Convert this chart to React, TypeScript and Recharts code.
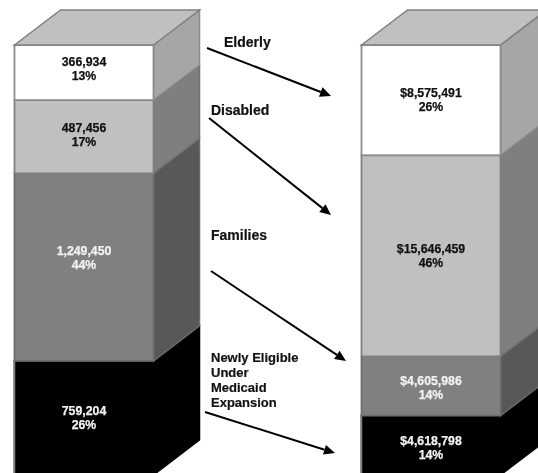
import React from "react";
import { BarChart, Bar, XAxis, YAxis } from "recharts";

const categories = ["Enrollment", "Spending"];
const elderly = [366934, 8575491];
const disabled = [487456, 15646459];
const families = [1249450, 4605986];
const newlyEligible = [759204, 4618798];
const valueLabels: Record<string, string[]> = {
  elderly: ["366,934", "$8,575,491"],
  disabled: ["487,456", "$15,646,459"],
  families: ["1,249,450", "$4,605,986"],
  newlyEligible: ["759,204", "$4,618,798"],
};
const percentLabels: Record<string, string[]> = {
  elderly: ["13%", "26%"],
  disabled: ["17%", "46%"],
  families: ["44%", "14%"],
  newlyEligible: ["26%", "14%"],
};

const data = categories.map((category, i) => ({
  category,
  elderly: elderly[i],
  disabled: disabled[i],
  families: families[i],
  newlyEligible: newlyEligible[i],
}));

const DEPTH_X = 46;
const DEPTH_Y = 35;
const EDGE = "#808080";
const FONT = "'Liberation Sans', Arial, sans-serif";

const sideFill: Record<string, string> = {
  elderly: "#a6a6a6",
  disabled: "#7f7f7f",
  families: "#585858",
  newlyEligible: "#000000",
};
const sideStroke: Record<string, string> = {
  elderly: "#8c8c8c",
  disabled: "#707070",
  families: "#6a6a6a",
  newlyEligible: "#000000",
};
const frontStroke: Record<string, string> = {
  elderly: "#8c8c8c",
  disabled: "#808080",
  families: "#6e6e6e",
  newlyEligible: "#000000",
};
const textFill: Record<string, string> = {
  elderly: "#111111",
  disabled: "#111111",
  families: "#f2f2f2",
  newlyEligible: "#f2f2f2",
};
const labelShift: Record<string, number[]> = {
  elderly: [-4, 0],
  disabled: [-2, 0],
  families: [-9, 2],
  newlyEligible: [0, 3],
};

function Block(props: any) {
  const { x, y, width, height, fill, index, seriesKey, isTop } = props;
  const cx = x + width / 2;
  const cy = y + height / 2 + labelShift[seriesKey][index];
  const labelProps = {
    textAnchor: "middle" as const,
    fontFamily: FONT,
    fontWeight: "bold",
    fontSize: 12.3,
    fill: textFill[seriesKey],
    stroke: textFill[seriesKey],
    strokeWidth: 0.25,
  };
  return (
    <g>
      <polygon
        points={`${x + width},${y} ${x + width + DEPTH_X},${y - DEPTH_Y} ${x + width + DEPTH_X},${y + height - DEPTH_Y} ${x + width},${y + height}`}
        fill={sideFill[seriesKey]}
        stroke={sideStroke[seriesKey]}
        strokeWidth={1.5}
      />
      <rect x={x} y={y} width={width} height={height} fill={fill} stroke={frontStroke[seriesKey]} strokeWidth={1.8} />
      {seriesKey === "newlyEligible" && (
        <line x1={x} y1={y} x2={x} y2={y + height} stroke={EDGE} strokeWidth={1.5} />
      )}
      {isTop && (
        <polygon
          points={`${x},${y} ${x + DEPTH_X},${y - DEPTH_Y} ${x + width + DEPTH_X},${y - DEPTH_Y} ${x + width},${y}`}
          fill="#c0c0c0"
          stroke={EDGE}
          strokeWidth={1.5}
        />
      )}
      <text x={cx} y={cy - 3} {...labelProps}>
        {valueLabels[seriesKey][index]}
      </text>
      <text x={cx} y={cy + 11} {...labelProps}>
        {percentLabels[seriesKey][index]}
      </text>
    </g>
  );
}

const arrows = [
  [207, 48, 331, 96],
  [209, 118, 331, 215],
  [211, 271, 346, 361],
  [205, 412, 335, 453],
];

function Arrow({ line }: { line: number[] }) {
  const [x1, y1, x2, y2] = line;
  const a = Math.atan2(y2 - y1, x2 - x1);
  const len = 11;
  const half = 5;
  const bx = x2 - len * Math.cos(a);
  const by = y2 - len * Math.sin(a);
  const nx = -Math.sin(a) * half;
  const ny = Math.cos(a) * half;
  return (
    <g>
      <line x1={x1} y1={y1} x2={bx} y2={by} stroke="#000" strokeWidth={2} />
      <polygon points={`${x2},${y2} ${bx + nx},${by + ny} ${bx - nx},${by - ny}`} fill="#000" />
    </g>
  );
}

const seriesLabels = [
  { text: "Elderly", x: 224, y: 47, size: 14 },
  { text: "Disabled", x: 211, y: 115, size: 14 },
  { text: "Families", x: 211, y: 240, size: 14 },
  { text: "Newly Eligible", x: 211, y: 362, size: 13 },
  { text: "Under", x: 211, y: 377, size: 13 },
  { text: "Medicaid", x: 211, y: 392, size: 13 },
  { text: "Expansion", x: 211, y: 407, size: 13 },
];

const series = [
  { key: "newlyEligible", fill: "#000000" },
  { key: "families", fill: "#808080" },
  { key: "disabled", fill: "#c0c0c0" },
  { key: "elderly", fill: "#ffffff" },
];

export default function App() {
  return (
    <div style={{ position: "absolute", left: 0, top: 0, width: 538, height: 473, overflow: "hidden", background: "#fff" }}>
      <div style={{ filter: "blur(0.45px)" }}>
        <BarChart
          width={538}
          height={475}
          data={data}
          stackOffset="expand"
          margin={{ top: 45, right: 107, bottom: 0, left: 84 }}
          barSize={139}
        >
          <XAxis dataKey="category" scale="point" hide padding={{ left: 0, right: 0 }} />
          <YAxis hide domain={[0, 1]} />
          {series.map((s) => (
            <Bar
              key={s.key}
              dataKey={s.key}
              stackId="total"
              fill={s.fill}
              isAnimationActive={false}
              shape={(p: any) => <Block {...p} seriesKey={s.key} isTop={s.key === "elderly"} />}
            />
          ))}
          <g>
            {arrows.map((line, i) => (
              <Arrow key={i} line={line} />
            ))}
            {seriesLabels.map((l) => (
              <text key={l.text} x={l.x} y={l.y} fontFamily={FONT} fontWeight="bold" fontSize={l.size} fill="#111" stroke="#111" strokeWidth={0.2}>
                {l.text}
              </text>
            ))}
          </g>
        </BarChart>
      </div>
    </div>
  );
}
